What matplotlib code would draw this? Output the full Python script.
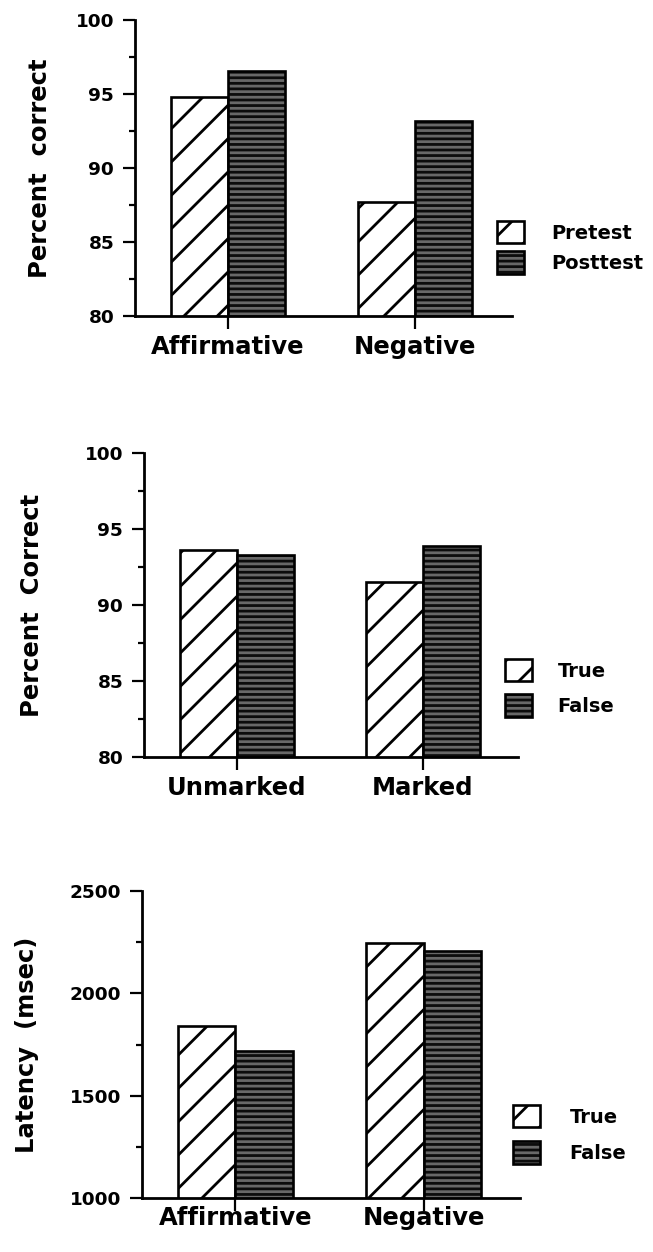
import matplotlib
matplotlib.use("Agg")
import matplotlib.pyplot as plt
from matplotlib.patches import Patch
from matplotlib.ticker import MultipleLocator
import numpy as np

# ---------------- data ----------------
categories_1 = ["Affirmative", "Negative"]
series_1 = ["Pretest", "Posttest"]
pretest = [94.8, 87.7]
posttest = [96.55, 93.2]
ylabel_1 = "Percent  correct"

categories_2 = ["Unmarked", "Marked"]
series_2 = ["True", "False"]
true_pct = [93.6, 91.5]
false_pct = [93.3, 93.85]
ylabel_2 = "Percent  Correct"

categories_3 = ["Affirmative", "Negative"]
series_3 = ["True", "False"]
true_lat = [1842, 2244]
false_lat = [1720, 2208]
ylabel_3 = "Latency  (msec)"

yticks_12 = [80, 85, 90, 95, 100]
yticks_3 = [1000, 1500, 2000, 2500]

# ---------------- figure ----------------
plt.rcParams["hatch.linewidth"] = 2.0
W, H = 653, 1252
fig = plt.figure(figsize=(W / 100, H / 100), dpi=100)
FONT = "DejaVu Sans"
DARK = "#0c0c0c"
STRIPE = (1, 1, 1, 0.38)
BAR_W = 0.305
EDGE_LW = 1.9


def px_axes(left, right, top, bottom):
    return fig.add_axes([left / W, 1 - bottom / H, (right - left) / W, (bottom - top) / H])


def hatched_patch_kwargs():
    return dict(facecolor="white", edgecolor="black", hatch="/", linewidth=EDGE_LW)


def striped_bar(ax, x, vals):
    ax.bar(x, vals, BAR_W, facecolor=DARK, edgecolor=STRIPE, hatch="---", linewidth=0, zorder=1)
    ax.bar(x, vals, BAR_W, facecolor="none", edgecolor="black", linewidth=EDGE_LW, zorder=1.5)


def hatched_bar(ax, x, vals):
    ax.bar(x, vals, BAR_W, zorder=1, **hatched_patch_kwargs())


def legend_handles():
    h1 = Patch(**hatched_patch_kwargs())
    h2a = Patch(facecolor=DARK, edgecolor=STRIPE, hatch="---", linewidth=0)
    h2b = Patch(facecolor="none", edgecolor="black", linewidth=EDGE_LW)
    return [h1, (h2a, h2b)]


def panel(box, xlim, cats, s1, s2, labels, ylim, yticks, minor, ylabel, ylab_x,
          xpad, leg_anchor, leg_textpad, leg_spacing):
    left, right, top, bottom = box
    ax = px_axes(left, right, top, bottom)
    x = np.arange(len(cats))
    hatched_bar(ax, x - BAR_W / 2, s1)
    striped_bar(ax, x + BAR_W / 2, s2)
    ax.set_xlim(*xlim)
    ax.set_ylim(*ylim)
    for sp in ["top", "right"]:
        ax.spines[sp].set_visible(False)
    for sp in ["left", "bottom"]:
        ax.spines[sp].set_linewidth(2.0)
        ax.spines[sp].set_zorder(3)
    ax.set_xticks(x)
    ax.set_xticklabels(cats, fontsize=17.5, fontweight="bold", family=FONT)
    ax.set_yticks(yticks)
    ax.set_yticklabels([str(t) for t in yticks], fontsize=13.3, fontweight="bold", family=FONT)
    ax.yaxis.set_minor_locator(MultipleLocator(minor))
    ax.tick_params(axis="x", direction="out", length=9.5, width=1.6, pad=xpad)
    ax.tick_params(axis="y", which="major", direction="out", length=9, width=1.6, pad=6)
    ax.tick_params(axis="y", which="minor", direction="out", length=4, width=1.6)
    ax.set_ylabel(ylabel, fontsize=17.5, fontweight="bold", family=FONT, va="center")
    ax.yaxis.set_label_coords((ylab_x - left) / (right - left), 0.5)
    ax.legend(legend_handles(), labels, loc="upper left",
              bbox_to_anchor=(leg_anchor[0] / W, 1 - leg_anchor[1] / H),
              bbox_transform=fig.transFigure, frameon=False, borderpad=0, borderaxespad=0,
              handlelength=1.4, handleheight=1.4, handletextpad=leg_textpad,
              labelspacing=leg_spacing,
              prop={"family": FONT, "weight": "bold", "size": 14})
    return ax


panel((135, 512, 20, 316), (-0.497, 1.519), categories_1, pretest, posttest, series_1,
      (80, 100), yticks_12, 2.5, ylabel_1, 40, 4.0, (497, 221), 1.4, 0.4)
panel((144, 518, 453, 757), (-0.5, 1.511), categories_2, true_pct, false_pct, series_2,
      (80, 100), yticks_12, 2.5, ylabel_2, 32, 4.0, (505, 659), 1.3, 0.65)
panel((142, 520, 891, 1198), (-0.495, 1.511), categories_3, true_lat, false_lat, series_3,
      (1000, 2500), yticks_3, 250, ylabel_3, 27, -4.0, (513, 1105), 1.5, 0.72)

fig.savefig("out.png", dpi=100)
